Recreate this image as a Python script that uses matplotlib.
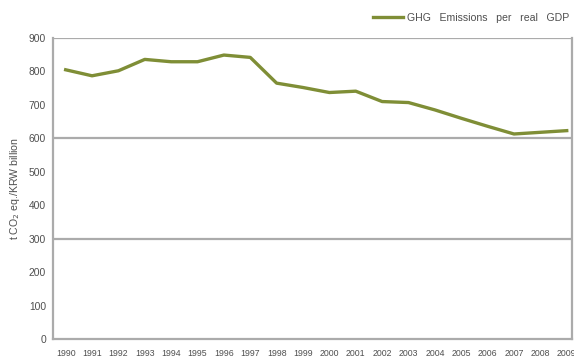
import matplotlib
matplotlib.use("Agg")
import matplotlib.pyplot as plt

# GHG emissions intensity, t CO2 eq. per KRW billion of real GDP
years = list(range(1990, 2010))
intensity = [805, 787, 802, 836, 829, 829, 849, 842, 765, 752,
             737, 741, 710, 707, 685, 660, 636, 613, 618, 623]

y_ticks = list(range(0, 1000, 100))
grid_levels = [300, 600, 900]

LINE_COLOR = "#7f8e36"
TEXT_COLOR = "#4f4f4f"
FRAME_COLOR = "#ababab"

plt.rcParams["font.family"] = ["Liberation Sans", "DejaVu Sans"]

fig = plt.figure(figsize=(5.74, 3.63), dpi=100)
ax = fig.add_axes([53 / 574, 1 - 339 / 363, 519 / 574, 301 / 363])

for lvl in grid_levels:
    ax.axhline(lvl, color=FRAME_COLOR, linewidth=1.6, zorder=1)

ax.plot(years, intensity, color=LINE_COLOR, linewidth=2.4,
        solid_joinstyle="round", zorder=3,
        label="GHG   Emissions   per   real   GDP")

ax.set_xlim(1989.52, 2009.2)
ax.set_ylim(0, 900)
ax.set_xticks(years)
ax.set_xticklabels([str(y) for y in years], fontsize=6.3, color=TEXT_COLOR)
ax.set_yticks(y_ticks)
ax.set_yticklabels([str(v) for v in y_ticks], fontsize=7.4, color=TEXT_COLOR)
ax.tick_params(length=0, pad=5)
ax.tick_params(axis="x", pad=7)

for side in ["left", "bottom", "right"]:
    ax.spines[side].set_color(FRAME_COLOR)
    ax.spines[side].set_linewidth(1.6)
ax.spines["top"].set_visible(False)

ax.set_ylabel("t CO$_2$ eq./KRW billion", fontsize=7.6, color=TEXT_COLOR,
              labelpad=5)

ax.legend(loc="lower right", bbox_to_anchor=(0.995, 1.05), frameon=False,
          fontsize=7.6, handlelength=2.9, handletextpad=0.35,
          borderaxespad=0, borderpad=0, labelcolor=TEXT_COLOR)

fig.savefig("out.png", dpi=100, facecolor="white")
